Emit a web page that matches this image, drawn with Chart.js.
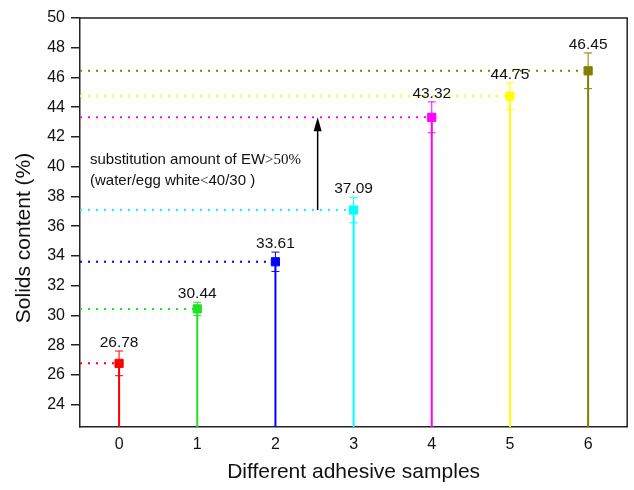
<!DOCTYPE html>
<html>
<head>
<meta charset="utf-8">
<script src="https://cdn.jsdelivr.net/npm/chart.js@4.4.1/dist/chart.umd.min.js"></script>
<style>
  html, body { margin: 0; padding: 0; background: #fff; }
  #wrap { width: 634px; height: 490px; }
</style>
</head>
<body>
<div id="wrap"><canvas id="chart" width="634" height="490"></canvas></div>
<script>
// sample data
const samples = [0, 1, 2, 3, 4, 5, 6];
const solids = [26.78, 30.44, 33.61, 37.09, 43.32, 44.75, 46.45];
const errors = [0.83, 0.45, 0.65, 0.86, 1.04, 0.9, 1.2];
const colors = ["#ff0000", "#22e022", "#0000ff", "#00ffff", "#ff00ff", "#ffff00", "#808000"];
const yTicks = [24, 26, 28, 30, 32, 34, 36, 38, 40, 42, 44, 46, 48, 50];

const Y_MIN = 22.5, Y_MAX = 50;
const X_MIN = -0.5, X_MAX = 6.5;
const SANS = "'Liberation Sans', Arial, sans-serif";
const SERIF = "'Liberation Serif', 'Times New Roman', serif";

// build datasets: dotted guide, drop stem, error bar, marker for each sample
const datasets = [];
samples.forEach((s, i) => {
  const v = solids[i], e = errors[i], c = colors[i];
  datasets.push({
    type: "line", order: 3,
    data: [{ x: X_MIN, y: v }, { x: s, y: v }],
    borderColor: c, borderWidth: 2, borderDash: [2, 6], borderCapStyle: "butt",
    pointRadius: 0
  });
  datasets.push({
    type: "line", order: 2,
    data: [{ x: s, y: Y_MIN }, { x: s, y: v }],
    borderColor: c, borderWidth: 2, pointRadius: 0
  });
  datasets.push({
    type: "line", order: 1,
    data: [{ x: s, y: v - e }, { x: s, y: v + e }],
    borderColor: c, borderWidth: 1,
    pointStyle: "line", pointRadius: 4, pointBorderWidth: 1, pointBorderColor: c
  });
  datasets.push({
    type: "scatter", order: 0,
    data: [{ x: s, y: v }],
    pointStyle: "rect", pointRadius: 5.8,
    backgroundColor: c, borderColor: c, borderWidth: 1
  });
});

// value labels, frame, arrow, annotation, y title
const extras = {
  id: "extras",
  afterDatasetsDraw(chart) {
    const { ctx, chartArea: a, scales: { x, y } } = chart;
    ctx.save();

    // top and right frame
    ctx.strokeStyle = "#222";
    ctx.lineWidth = 1.5;
    ctx.beginPath();
    ctx.moveTo(a.left, a.top);
    ctx.lineTo(a.right, a.top);
    ctx.lineTo(a.right, a.bottom);
    ctx.stroke();

    // value labels
    ctx.fillStyle = "#111";
    ctx.font = "15.5px " + SANS;
    ctx.textAlign = "center";
    ctx.textBaseline = "alphabetic";
    samples.forEach((s, i) => {
      ctx.fillText(solids[i].toFixed(2), x.getPixelForValue(s), y.getPixelForValue(solids[i] + errors[i]) - 4);
    });

    // arrow between sample 3 and sample 4 levels
    const ax = x.getPixelForValue(2.54);
    const y0 = y.getPixelForValue(solids[3]);
    const y1 = y.getPixelForValue(solids[4]);
    ctx.strokeStyle = "#000";
    ctx.fillStyle = "#000";
    ctx.lineWidth = 1.5;
    ctx.beginPath();
    ctx.moveTo(ax, y0);
    ctx.lineTo(ax, y1 + 10);
    ctx.stroke();
    ctx.beginPath();
    ctx.moveTo(ax, y1);
    ctx.lineTo(ax - 4, y1 + 14);
    ctx.lineTo(ax + 4, y1 + 14);
    ctx.closePath();
    ctx.fill();

    // annotation text (mixed fonts)
    ctx.textAlign = "left";
    ctx.fillStyle = "#111";
    let tx = 90;
    ctx.font = "15px " + SANS;
    const p1 = "substitution amount of EW";
    ctx.fillText(p1, tx, 164);
    tx += ctx.measureText(p1).width;
    ctx.font = "15px " + SERIF;
    ctx.fillText(">50%", tx, 164);

    tx = 90;
    ctx.font = "15px " + SANS;
    const p2 = "(water/egg white";
    ctx.fillText(p2, tx, 185);
    tx += ctx.measureText(p2).width;
    ctx.font = "15px " + SERIF;
    ctx.fillText("<", tx, 185);
    tx += ctx.measureText("<").width;
    ctx.font = "15px " + SANS;
    ctx.fillText("40/30 )", tx, 185);

    // y axis title
    ctx.translate(24, 238);
    ctx.rotate(-Math.PI / 2);
    ctx.textAlign = "center";
    ctx.textBaseline = "middle";
    ctx.font = "21px " + SANS;
    ctx.fillText("Solids content (%)", 0, 0);
    ctx.restore();
  }
};

new Chart(document.getElementById("chart"), {
  type: "scatter",
  data: { datasets },
  options: {
    responsive: false,
    animation: false,
    layout: { padding: { top: 18, right: 3, left: 0, bottom: 0 } },
    plugins: { legend: { display: false }, tooltip: { enabled: false } },
    scales: {
      x: {
        type: "linear", min: X_MIN, max: X_MAX,
        afterFit: (s) => { s.height = 63; s.paddingLeft = 0; s.paddingRight = 0; },
        afterBuildTicks: (s) => { s.ticks = samples.map(v => ({ value: v })); },
        grid: { display: false, drawTicks: false },
        border: { color: "#222", width: 1.5 },
        ticks: { color: "#111", font: { size: 16, family: SANS }, padding: 8 },
        title: {
          display: true, text: "Different adhesive samples",
          color: "#111", font: { size: 21, family: SANS }, padding: { top: 0, bottom: 5 }
        }
      },
      y: {
        type: "linear", min: Y_MIN, max: Y_MAX,
        afterFit: (s) => { s.width = 80; },
        afterBuildTicks: (s) => { s.ticks = yTicks.map(v => ({ value: v })); },
        grid: { drawOnChartArea: false, tickLength: 9, color: "#222", lineWidth: 1.5 },
        border: { color: "#222", width: 1.5 },
        ticks: { color: "#111", font: { size: 16, family: SANS }, padding: 6 }
      }
    }
  },
  plugins: [extras]
});
</script>
</body>
</html>
